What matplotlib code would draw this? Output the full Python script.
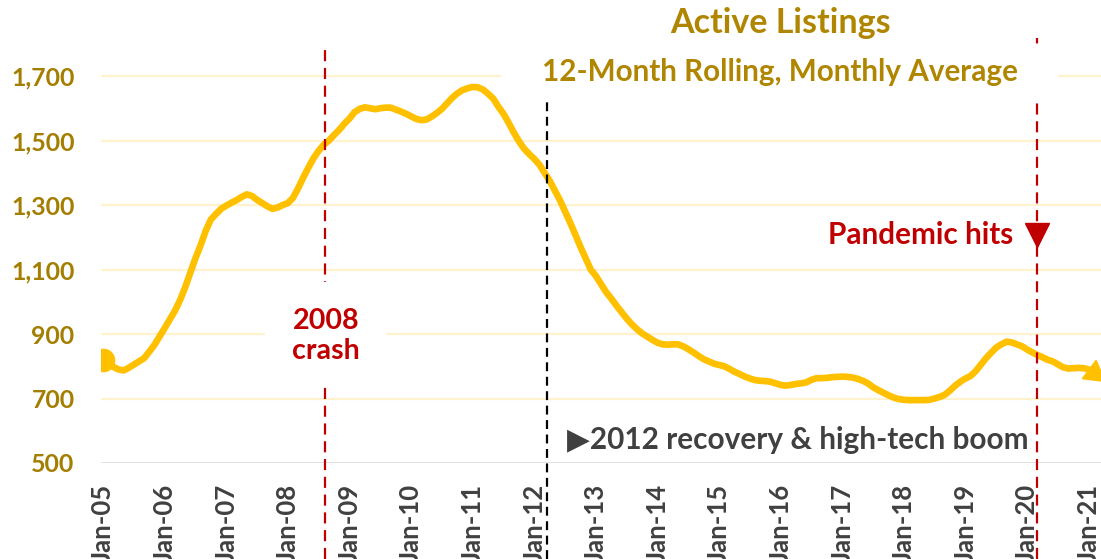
import numpy as np
import matplotlib
matplotlib.use("Agg")
import matplotlib.pyplot as plt
from matplotlib.patches import Rectangle

# active listings, 12-month rolling monthly average, Jan-05 .. Mar-21 (one row per year)
listings = [
    820, 808, 798, 790, 787, 795, 805, 815, 825, 845, 866, 892,          # 2005
    918, 945, 972, 1005, 1045, 1090, 1135, 1175, 1220, 1255, 1272, 1288,  # 2006
    1298, 1307, 1315, 1325, 1333, 1328, 1316, 1306, 1296, 1288, 1292, 1300,  # 2007
    1306, 1322, 1352, 1385, 1416, 1445, 1468, 1487, 1500, 1517, 1533, 1552,  # 2008
    1568, 1588, 1598, 1603, 1600, 1597, 1600, 1602, 1602, 1596, 1590, 1583,  # 2009
    1575, 1567, 1563, 1565, 1574, 1585, 1598, 1615, 1632, 1646, 1656, 1662,  # 2010
    1666, 1665, 1658, 1645, 1630, 1605, 1583, 1555, 1525, 1498, 1475, 1458,  # 2011
    1443, 1425, 1400, 1375, 1345, 1315, 1280, 1245, 1208, 1170, 1135, 1100,  # 2012
    1080, 1055, 1030, 1010, 988, 968, 948, 930, 915, 902, 892, 882,          # 2013
    873, 868, 867, 868, 868, 862, 853, 843, 832, 822, 815, 808,              # 2014
    804, 800, 792, 783, 776, 768, 762, 757, 755, 754, 752, 747,              # 2015
    742, 740, 742, 745, 747, 750, 758, 763, 763, 764, 766, 767,              # 2016
    768, 767, 765, 761, 755, 747, 735, 726, 718, 710, 703, 698,              # 2017
    696, 695, 695, 695, 695, 696, 700, 705, 712, 725, 740, 752,              # 2018
    762, 770, 785, 805, 825, 842, 858, 868, 876, 874, 868, 862,              # 2019
    852, 843, 835, 828, 820, 815, 806, 797, 793, 794, 795, 794,              # 2020
    790, 780, 766,                                                           # 2021
]
tick_labels = ["Jan-%02d" % y for y in range(5, 22)]
y_ticks = [500, 700, 900, 1100, 1300, 1500, 1700]

crash_month = 43.2      # Aug-08
recovery_month = 86.5   # Mar-12
pandemic_month = 182.0  # Feb-20

GOLD = "#FFC000"
TXT_GOLD = "#A47E00"
TITLE_GOLD = "#B08600"
RED = "#C00000"
GRAY = "#404040"
W, H = 1101, 559

plt.rcParams["font.family"] = ["Lato", "DejaVu Sans"]
plt.rcParams["font.weight"] = "bold"

fig = plt.figure(figsize=(W / 100, H / 100), dpi=100)
ax = fig.add_axes([101 / W, 96 / H, 1000 / W, 463 / H])


def fx(px):
    return px / W


def fy(py):
    return 1 - py / H


months = np.arange(len(listings))
px_per_unit = 387 / 1200.0
ax.set_xlim(-0.4, 194.4)
ax.set_ylim(500, 500 + 463 / px_per_unit)

for s in ax.spines.values():
    s.set_visible(False)

# gridlines
for v in y_ticks[1:]:
    ax.axhline(v, color="#FFF2CC", lw=1.6, zorder=1)
ax.axhline(500, color="#D9D9D9", lw=1.8, zorder=1)

ax.set_yticks(y_ticks)
ax.set_yticklabels([f"{v:,}" for v in y_ticks])
ax.set_xticks(np.arange(0, 193, 12))
ax.set_xticklabels(tick_labels, rotation=90)
ax.tick_params(axis="y", length=0, pad=19, labelsize=17.9, labelcolor=TXT_GOLD)
ax.tick_params(axis="x", length=0, pad=15, labelsize=18.5, labelcolor=GRAY)

# main series, round dot at the start and arrow head at the end
ax.plot(months[:-1], listings[:-1], color=GOLD, lw=4.8, solid_capstyle="round",
        solid_joinstyle="round", zorder=3)
ax.plot(months[0], listings[0], "o", color=GOLD, ms=16, zorder=3)
p1 = ax.transData.transform((months[-3], listings[-3]))
p2 = ax.transData.transform((months[-1], listings[-1]))
ang = np.degrees(np.arctan2(p2[1] - p1[1], p2[0] - p1[0]))
ax.plot(months[-2], listings[-2], marker=(3, 0, ang - 90), color=GOLD,
        ms=19, zorder=3, clip_on=False)

# event lines
ax.plot([crash_month, crash_month], [202, 1795], color=RED, lw=1.6,
        ls=(0, (5, 3)), zorder=4, clip_on=False)
ax.plot([recovery_month, recovery_month], [202, 1625], color="black", lw=1.6,
        ls=(0, (4, 2.5)), zorder=4, clip_on=False)
ax.plot([pandemic_month, pandemic_month], [202, 1817], color=RED, lw=1.6,
        ls=(0, (5, 3)), zorder=4, clip_on=False)
ax.plot(pandemic_month, 500 + (463 - 235) / px_per_unit, "v", color=RED,
        ms=17, zorder=5)

# white label boxes that cut the gridlines and dashed lines
fig.patches.append(Rectangle((fx(501), fy(102)), fx(557), 57 / H, fc="white",
                             ec="none", transform=fig.transFigure, zorder=1))
fig.patches.append(Rectangle((fx(265), fy(385)), fx(121), 103 / H, fc="white",
                             ec="none", transform=fig.transFigure, zorder=1))

# titles
fig.text(fx(781), fy(23), "Active Listings", ha="center", va="center",
         fontsize=24.5, color=TITLE_GOLD, zorder=2)
fig.text(fx(780), fy(72), "12-Month Rolling, Monthly Average",
         ha="center", va="center", fontsize=21.3, color=TITLE_GOLD, zorder=2)

# annotations
fig.text(fx(326), fy(336), "2008\ncrash", ha="center", va="center",
         fontsize=20.6, color=RED, linespacing=1.2, zorder=2)
fig.text(fx(1013), fy(235), "Pandemic hits", ha="right", va="center",
         fontsize=21.4, color=RED, zorder=2)
fig.text(fx(567), fy(440), "\u25B62012 recovery & high-tech boom",
         ha="left", va="center", fontsize=21.4, color=GRAY, zorder=2)

fig.savefig("out.png", dpi=100)
